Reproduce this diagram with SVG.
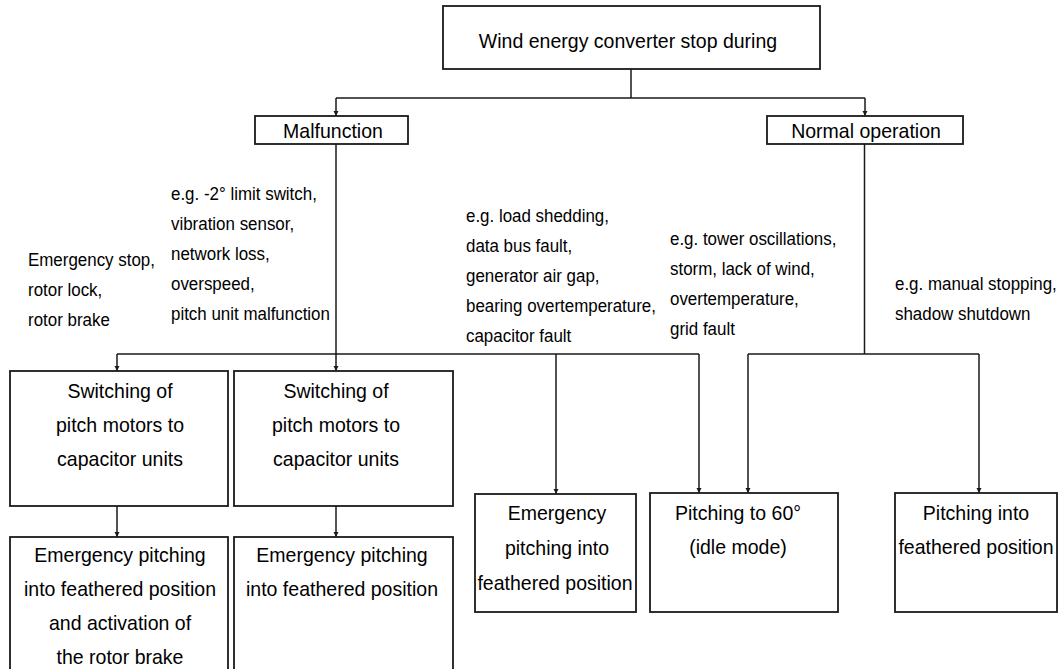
<svg xmlns="http://www.w3.org/2000/svg" width="1063" height="669" viewBox="0 0 1063 669">
<style>
.box{fill:#fff;stroke:#1a1a1a;stroke-width:1.8}
.t{font-family:"Liberation Sans",Arial,sans-serif;font-size:21px;fill:#000;text-anchor:middle}
.s{font-family:"Liberation Sans",Arial,sans-serif;font-size:18.5px;fill:#000}
.c{fill:none;stroke:#1a1a1a;stroke-width:1.5}
.a{fill:none;stroke:#1a1a1a;stroke-width:1.5;marker-end:url(#ah)}
</style>
<defs>
<marker id="ah" markerUnits="userSpaceOnUse" markerWidth="6" markerHeight="6" refX="5" refY="3" orient="auto">
<path d="M0,0.5 L5,3 L0,5.5 z" fill="#1a1a1a"/>
</marker>
</defs>
<rect width="1063" height="669" fill="#fff"/>
<g id="connectors">
<path class="c" d="M631,69 V98 M336,98 H865"/>
<path class="a" d="M336,98 V116"/>
<path class="a" d="M865,98 V116"/>
<path class="c" d="M336,144 V354 M117,354 H699"/>
<path class="a" d="M117,354 V371"/>
<path class="a" d="M336,354 V371"/>
<path class="a" d="M556,354 V494"/>
<path class="a" d="M699,354 V493"/>
<path class="a" d="M117,506 V537"/>
<path class="a" d="M336,506 V537"/>
<path class="c" d="M864.5,144 V354 M748,354 H979"/>
<path class="a" d="M748,354 V493"/>
<path class="a" d="M979,354 V493"/>
</g>
<g id="labels">
<text class="s" transform="matrix(0.915 0 0 1 28 265.5)">Emergency stop,</text>
<text class="s" transform="matrix(0.915 0 0 1 28 295.5)">rotor lock,</text>
<text class="s" transform="matrix(0.915 0 0 1 28 325.5)">rotor brake</text>
<text class="s" transform="matrix(0.915 0 0 1 171 200)">e.g. -2° limit switch,</text>
<text class="s" transform="matrix(0.915 0 0 1 171 230)">vibration sensor,</text>
<text class="s" transform="matrix(0.915 0 0 1 171 260)">network loss,</text>
<text class="s" transform="matrix(0.915 0 0 1 171 290)">overspeed,</text>
<text class="s" transform="matrix(0.915 0 0 1 171 320)">pitch unit malfunction</text>
<text class="s" transform="matrix(0.915 0 0 1 466 222)">e.g. load shedding,</text>
<text class="s" transform="matrix(0.915 0 0 1 466 252)">data bus fault,</text>
<text class="s" transform="matrix(0.915 0 0 1 466 282)">generator air gap,</text>
<text class="s" transform="matrix(0.915 0 0 1 466 312)">bearing overtemperature,</text>
<text class="s" transform="matrix(0.915 0 0 1 466 342)">capacitor fault</text>
<text class="s" transform="matrix(0.915 0 0 1 670 245)">e.g. tower oscillations,</text>
<text class="s" transform="matrix(0.915 0 0 1 670 275)">storm, lack of wind,</text>
<text class="s" transform="matrix(0.915 0 0 1 670 305)">overtemperature,</text>
<text class="s" transform="matrix(0.915 0 0 1 670 335)">grid fault</text>
<text class="s" transform="matrix(0.915 0 0 1 895 290)">e.g. manual stopping,</text>
<text class="s" transform="matrix(0.915 0 0 1 895 320)">shadow shutdown</text>
</g>
<g id="top">
<rect class="box" x="443" y="6" width="377" height="63"/>
<text class="t" transform="matrix(0.93 0 0 1 628 48)">Wind energy converter stop during</text>
</g>
<g id="malfunction">
<rect class="box" x="255" y="116" width="153" height="28"/>
<text class="t" transform="matrix(0.93 0 0 1 333 137.5)">Malfunction</text>
</g>
<g id="normal">
<rect class="box" x="767" y="116" width="196" height="28"/>
<text class="t" transform="matrix(0.93 0 0 1 866 137.5)">Normal operation</text>
</g>
<g id="switch1">
<rect class="box" x="10" y="371" width="218" height="135"/>
<text class="t" transform="matrix(0.93 0 0 1 120 398)">Switching of</text>
<text class="t" transform="matrix(0.93 0 0 1 120 432)">pitch motors to</text>
<text class="t" transform="matrix(0.93 0 0 1 120 466)">capacitor units</text>
</g>
<g id="switch2">
<rect class="box" x="234" y="371" width="219" height="135"/>
<text class="t" transform="matrix(0.93 0 0 1 336 398)">Switching of</text>
<text class="t" transform="matrix(0.93 0 0 1 336 432)">pitch motors to</text>
<text class="t" transform="matrix(0.93 0 0 1 336 466)">capacitor units</text>
</g>
<g id="emerg1">
<rect class="box" x="10" y="537" width="218" height="140"/>
<text class="t" transform="matrix(0.93 0 0 1 120 562)">Emergency pitching</text>
<text class="t" transform="matrix(0.93 0 0 1 120 596)">into feathered position</text>
<text class="t" transform="matrix(0.93 0 0 1 120 630)">and activation of</text>
<text class="t" transform="matrix(0.93 0 0 1 120 664)">the rotor brake</text>
</g>
<g id="emerg2">
<rect class="box" x="234" y="537" width="219" height="140"/>
<text class="t" transform="matrix(0.93 0 0 1 342 562)">Emergency pitching</text>
<text class="t" transform="matrix(0.93 0 0 1 342 596)">into feathered position</text>
</g>
<g id="emerg3">
<rect class="box" x="475" y="494" width="161" height="118"/>
<text class="t" transform="matrix(0.93 0 0 1 557 520)">Emergency</text>
<text class="t" transform="matrix(0.93 0 0 1 557 555)">pitching into</text>
<text class="t" transform="matrix(0.93 0 0 1 555 590)">feathered position</text>
</g>
<g id="pitch60">
<rect class="box" x="650" y="493" width="188" height="119"/>
<text class="t" transform="matrix(0.93 0 0 1 738 520)">Pitching to 60°</text>
<text class="t" transform="matrix(0.93 0 0 1 738 554)">(idle mode)</text>
</g>
<g id="feather">
<rect class="box" x="895" y="493" width="162" height="119"/>
<text class="t" transform="matrix(0.93 0 0 1 976 520)">Pitching into</text>
<text class="t" transform="matrix(0.93 0 0 1 976 554)">feathered position</text>
</g>
</svg>
